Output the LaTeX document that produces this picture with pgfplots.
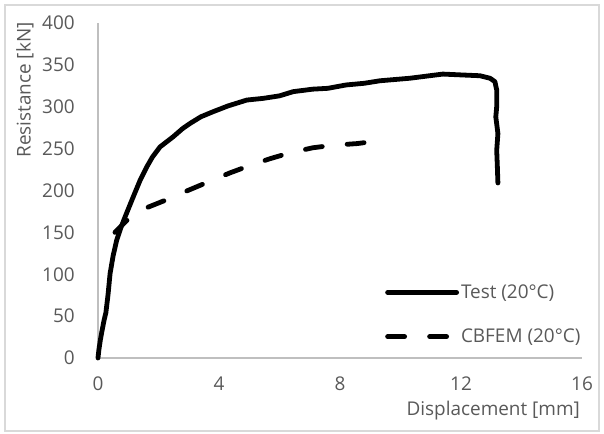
\documentclass[border=0pt]{standalone}
\usepackage{fontspec}
\setmainfont{Open Sans}
\usepackage{pgfplots}
\pgfplotsset{compat=1.18}
\definecolor{txt}{HTML}{595959}
\definecolor{axl}{HTML}{BFBFBF}
\definecolor{frm}{HTML}{D9D9D9}
\newcommand{\lblfont}{\fontsize{19}{22}\selectfont}

\begin{document}
\begin{tikzpicture}[x=1bp,y=1bp]
% page extent and chart frame
\path (-98,-76) rectangle (506,358);
\draw[frm, line width=1.2bp] (-93,-73) rectangle (501,353);
\begin{axis}[
  at={(0,0)}, anchor=south west,
  scale only axis, width=484bp, height=335bp,
  xmin=0, xmax=16, ymin=0, ymax=400,
  axis x line=bottom, axis y line=left,
  axis line style={axl, line width=1.2bp, -},
  tick style={draw=none},
  xtick={0,4,...,16}, ytick={0,50,...,400},
  /pgf/number format/assume math mode=true,
  ticklabel style={font=\lblfont, text=txt},
  xticklabel style={anchor=base, yshift=-30bp},
  yticklabel style={anchor=east, inner sep=0pt, xshift=-21bp},
  xlabel={Displacement [mm]},
  xlabel style={font=\lblfont, text=txt, at={(axis description cs:0.996,-0.173)}, anchor=base east, inner sep=0pt},
  ylabel={Resistance [kN]},
  ylabel style={font=\lblfont, text=txt, at={(axis description cs:-0.151,0.8)}, anchor=center, inner sep=0pt},
  legend style={at={(axis description cs:0.593,0.225)}, anchor=north west, draw=none, fill=none,
    font=\lblfont, text=txt, row sep=25bp, inner sep=0pt},
  legend cell align=left,
  legend image code/.code={\draw[#1] (0bp,0bp) -- (69bp,0bp);},
  clip=false,
]
\addplot[black, line width=4.8bp, line cap=round, line join=round] coordinates {
(0,0) (0.03,10) (0.08,22) (0.12,30) (0.2,45) (0.26,54) (0.33,75) (0.4,101)
(0.5,122) (0.62,141) (0.75,155) (0.89,168) (1.16,192) (1.39,212) (1.61,228)
(1.8,240) (2.05,252) (2.48,264) (2.8,274) (3.04,280) (3.4,288) (3.8,294)
(4.3,301) (4.92,308) (5.46,310) (6.0,313) (6.45,318) (7.1,321) (7.6,322)
(8.2,326) (8.8,328) (9.32,331) (10.3,334) (11.4,339) (12.0,338) (12.63,337)
(12.96,334) (13.12,330) (13.18,320) (13.18,300) (13.15,288) (13.22,268)
(13.18,248) (13.2,230) (13.22,209)
};
\addlegendentry{Test (20°C)}
\addplot[black, line width=4.8bp, line cap=round, dash pattern=on 17bp off 25bp] coordinates {
(0.56,150) (1.06,168) (1.65,180) (2.27,189) (2.97,200) (3.63,210) (4.36,221)
(5.03,230) (5.69,238) (6.35,245) (7.1,251) (7.77,254) (8.56,256) (9.0,258)
};
\addlegendentry{CBFEM (20°C)}
\end{axis}
\end{tikzpicture}
\end{document}
